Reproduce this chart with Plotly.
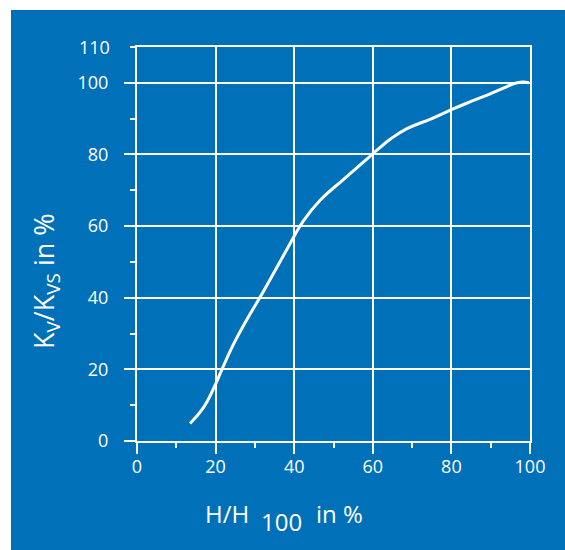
import plotly.graph_objects as go

# Data
stroke_pct = [13.5, 16.9, 20, 21.5, 24.5, 27.9, 31.3, 35.5, 38.9, 40.2, 42.3, 46.6, 52.5,
              58.4, 60.1, 61.8, 64.5, 68.7, 75, 80, 85, 90, 94, 96, 98, 99.7]
kv_pct = [4.9, 9.3, 15.9, 19.7, 26.9, 33.8, 40.1, 48.3, 55.0, 57.6, 61.4, 67.2, 73,
          78.6, 80.3, 81.9, 84.3, 87.2, 90, 92.5, 94.8, 97, 98.9, 99.8, 100.2, 100]
x_ticks = [0, 20, 40, 60, 80, 100]
x_minor = [10, 30, 50, 70, 90]
y_ticks = [0, 20, 40, 60, 80, 100]
y_minor = [10, 30, 50, 70, 90, 110]

BLUE = "#0070B8"
W, H = 565, 550
# plot area in page pixels: x 137..530, y 47..441
L, R = 137, W - 530
T, B = 47, H - 441
PW, PH = W - L - R, H - T - B


def xp(px):
    return (px - L) / PW


def yp(py):
    return (H - B - py) / PH


FONT = "Open Sans"

fig = go.Figure()
fig.add_trace(go.Scatter(x=stroke_pct, y=kv_pct, mode="lines",
                         line=dict(color="white", width=3, shape="spline", smoothing=1.3),
                         hoverinfo="skip", showlegend=False))

axis_common = dict(showline=True, linecolor="white", linewidth=2, mirror=True,
                   showgrid=True, gridcolor="white", gridwidth=2, zeroline=False,
                   ticks="outside", tickcolor="white", tickwidth=2, ticklen=11,
                   tickfont=dict(family=FONT, size=18, color="white"))

fig.update_xaxes(range=[0, 100], tickmode="array", tickvals=x_ticks,
                 ticklabelstandoff=-3,
                 minor=dict(tickmode="array", tickvals=x_minor, ticks="outside", ticklen=5,
                            tickcolor="white", tickwidth=2, showgrid=False),
                 **axis_common)
fig.update_yaxes(range=[0, 110], tickmode="array", tickvals=y_ticks,
                 ticklabelstandoff=12,
                 minor=dict(tickmode="array", tickvals=y_minor, ticks="outside", ticklen=5,
                            tickcolor="white", tickwidth=2, showgrid=False),
                 **axis_common)

fig.add_shape(type="rect", xref="paper", yref="paper", layer="below",
              x0=xp(11), x1=xp(W + 20), y0=yp(H + 20), y1=yp(10),
              fillcolor=BLUE, line=dict(width=0))

ann_font = dict(family=FONT, size=24, color="white")
fig.add_annotation(text="110", xref="paper", yref="y", x=xp(112), y=110,
                   xanchor="right", yanchor="middle", showarrow=False,
                   font=dict(family=FONT, size=18, color="white"))
fig.add_annotation(text="H/H", xref="paper", yref="paper", x=xp(227), y=yp(513),
                   xanchor="center", yanchor="middle", showarrow=False, font=ann_font)
fig.add_annotation(text="100", xref="paper", yref="paper", x=xp(281.5), y=yp(521),
                   xanchor="center", yanchor="middle", showarrow=False, font=ann_font)
fig.add_annotation(text="in %", xref="paper", yref="paper", x=xp(339), y=yp(513),
                   xanchor="center", yanchor="middle", showarrow=False, font=ann_font)
fig.add_annotation(text="K<sub>V</sub>/K<sub>VS</sub> in %", xref="paper", yref="paper",
                   x=xp(45), y=yp(281), textangle=-90,
                   xanchor="center", yanchor="middle", showarrow=False,
                   font=dict(family=FONT, size=27, color="white"))

fig.update_layout(width=W, height=H, margin=dict(l=L, r=R, t=T, b=B, pad=0),
                  paper_bgcolor="white", plot_bgcolor=BLUE, showlegend=False)

fig.write_html("out.html", config={"displayModeBar": False},
               post_script="document.body.style.margin='0';"
                           "document.body.style.overflow='hidden';"
                           "document.documentElement.style.overflow='hidden';")
